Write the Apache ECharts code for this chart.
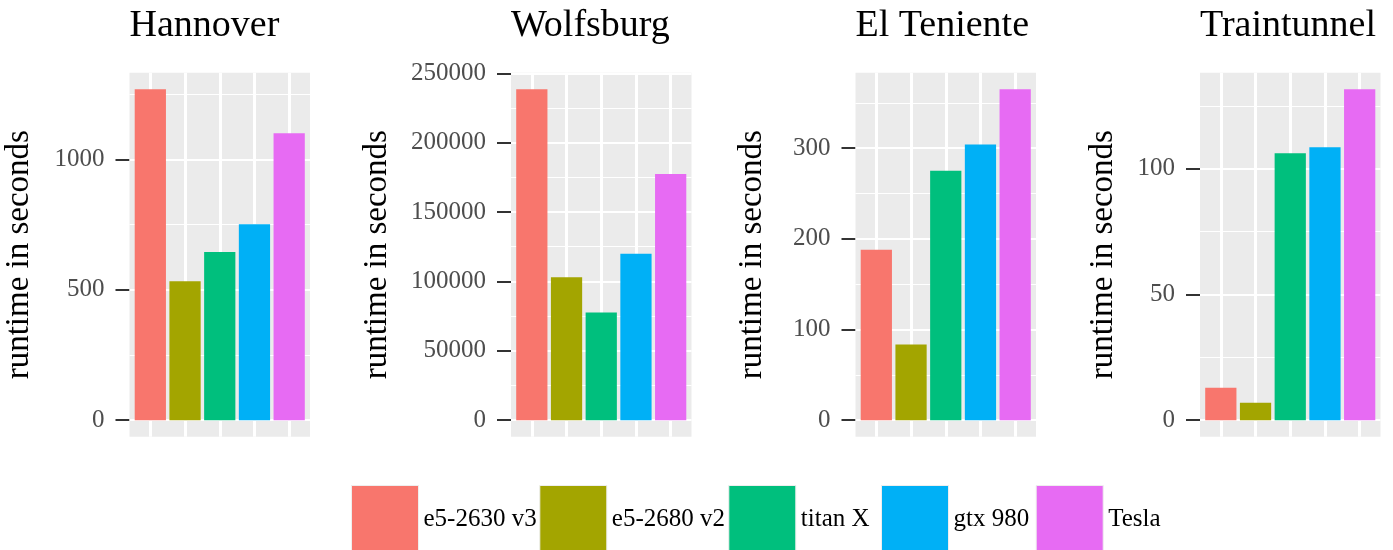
<!DOCTYPE html>
<html>
<head>
<meta charset="utf-8">
<script src="https://cdn.jsdelivr.net/npm/echarts@6/dist/echarts.min.js"></script>
<style>
html,body{margin:0;padding:0;background:#fff;}
#c{width:1393px;height:550px;}
</style>
</head>
<body>
<div id="c"></div>
<script>
// ---- data ----
const sites = ['Hannover', 'Wolfsburg', 'El Teniente', 'Traintunnel'];
const hardware = ['e5-2630 v3', 'e5-2680 v2', 'titan X', 'gtx 980', 'Tesla'];
const hannover = [1269, 533, 645, 751, 1100];
const wolfsburg = [238500, 103000, 77600, 120000, 177400];
const elTeniente = [188, 83.5, 275, 304, 365];
const traintunnel = [12.9, 6.9, 106.2, 108.6, 131.7];
const hannoverTicks = [0, 500, 1000];
const wolfsburgTicks = [0, 50000, 100000, 150000, 200000, 250000];
const elTenienteTicks = [0, 100, 200, 300];
const traintunnelTicks = [0, 50, 100];
const yTitle = 'runtime in seconds';

// ---- styling / layout ----
const colors = ['#F8766D', '#A3A500', '#00BF7D', '#00B0F6', '#E76BF3'];
const font = "'Liberation Serif', 'DejaVu Serif', serif";
const panelLeft = [129.5, 511, 855.5, 1200];
const panelW = 180.5, panelTop = 72.7, panelH = 364;
const nameGaps = [94, 117, 87, 80];
const legendLeft = [351, 539.3, 728.3, 881, 1035.7];

const values = [hannover, wolfsburg, elTeniente, traintunnel];
const ticks = [hannoverTicks, wolfsburgTicks, elTenienteTicks, traintunnelTicks];

const grids = [], xAxes = [], yAxes = [], series = [], titles = [];
values.forEach((vals, p) => {
  const hi = Math.max(...vals);
  const pad = 0.05 * hi;
  const major = ticks[p];
  const step = major[1] - major[0];
  const minor = [];
  for (let k = 0; k <= major.length; k++) {
    const t = major[0] + step * k - step / 2;
    if (t >= -pad && t <= hi + pad) minor.push(t);
  }
  const xCenters = hardware.map((h, i) => i + 1);

  titles.push({
    text: sites[p], left: panelLeft[p], top: 7, padding: 0,
    textStyle: { fontFamily: font, fontSize: 38, fontWeight: 'normal', color: '#000', lineHeight: 38 }
  });
  grids.push({
    left: panelLeft[p], top: panelTop, width: panelW, height: panelH,
    show: true, backgroundColor: '#EBEBEB', borderWidth: 0,
    containLabel: false, outerBoundsMode: 'none'
  });
  xAxes.push({
    type: 'value', gridIndex: p, min: 0.4, max: 5.6, show: false,
    axisLine: { show: false, onZero: false }, splitLine: { show: false }
  });
  yAxes.push({
    type: 'value', gridIndex: p, min: -pad, max: hi + pad,
    axisLine: { show: false, onZero: false },
    axisTick: { show: true, length: 14, customValues: major, lineStyle: { color: '#333333', width: 2 } },
    axisLabel: { show: true, customValues: major, margin: 25, color: '#4D4D4D', fontFamily: font, fontSize: 25,
      formatter: v => String(v) },
    splitLine: { show: false },
    name: yTitle, nameLocation: 'middle', nameRotate: 90, nameGap: nameGaps[p],
    nameTextStyle: { fontFamily: font, fontSize: 33, color: '#000', lineHeight: 33 }
  });
  series.push({
    type: 'line', xAxisIndex: p, yAxisIndex: p, data: [], z: 1, silent: true,
    markLine: {
      silent: true, symbol: 'none', z: 1, animation: false, label: { show: false },
      emphasis: { disabled: true },
      data: [
        ...minor.map(v => ({ yAxis: v, lineStyle: { color: '#FFFFFF', width: 1.2, type: 'solid' } })),
        ...major.map(v => ({ yAxis: v, lineStyle: { color: '#FFFFFF', width: 2, type: 'solid' } })),
        ...xCenters.map(x => ({ xAxis: x, lineStyle: { color: '#FFFFFF', width: 3, type: 'solid' } }))
      ]
    }
  });
  hardware.forEach((h, i) => {
    series.push({
      type: 'bar', name: h, xAxisIndex: p, yAxisIndex: p,
      barWidth: 0.9 * panelW / 5.2, barGap: '-100%', z: 2,
      itemStyle: { color: colors[i] },
      emphasis: { disabled: true },
      data: [[xCenters[i], vals[i]]]
    });
  });
});

const legends = hardware.map((h, i) => ({
  left: legendLeft[i], top: 485, padding: 0, itemGap: 0, itemWidth: 67, itemHeight: 67,
  icon: 'rect', selectedMode: false,
  itemStyle: { borderColor: '#EEEEEE', borderWidth: 1 },
  textStyle: { fontFamily: font, fontSize: 25, color: '#000', padding: [5, 0, 0, 0] },
  data: [h]
}));

const chart = echarts.init(document.getElementById('c'), null, { renderer: 'canvas' });
chart.setOption({
  backgroundColor: '#FFFFFF',
  animation: false,
  title: titles,
  grid: grids,
  xAxis: xAxes,
  yAxis: yAxes,
  legend: legends,
  series: series
});
</script>
</body>
</html>
